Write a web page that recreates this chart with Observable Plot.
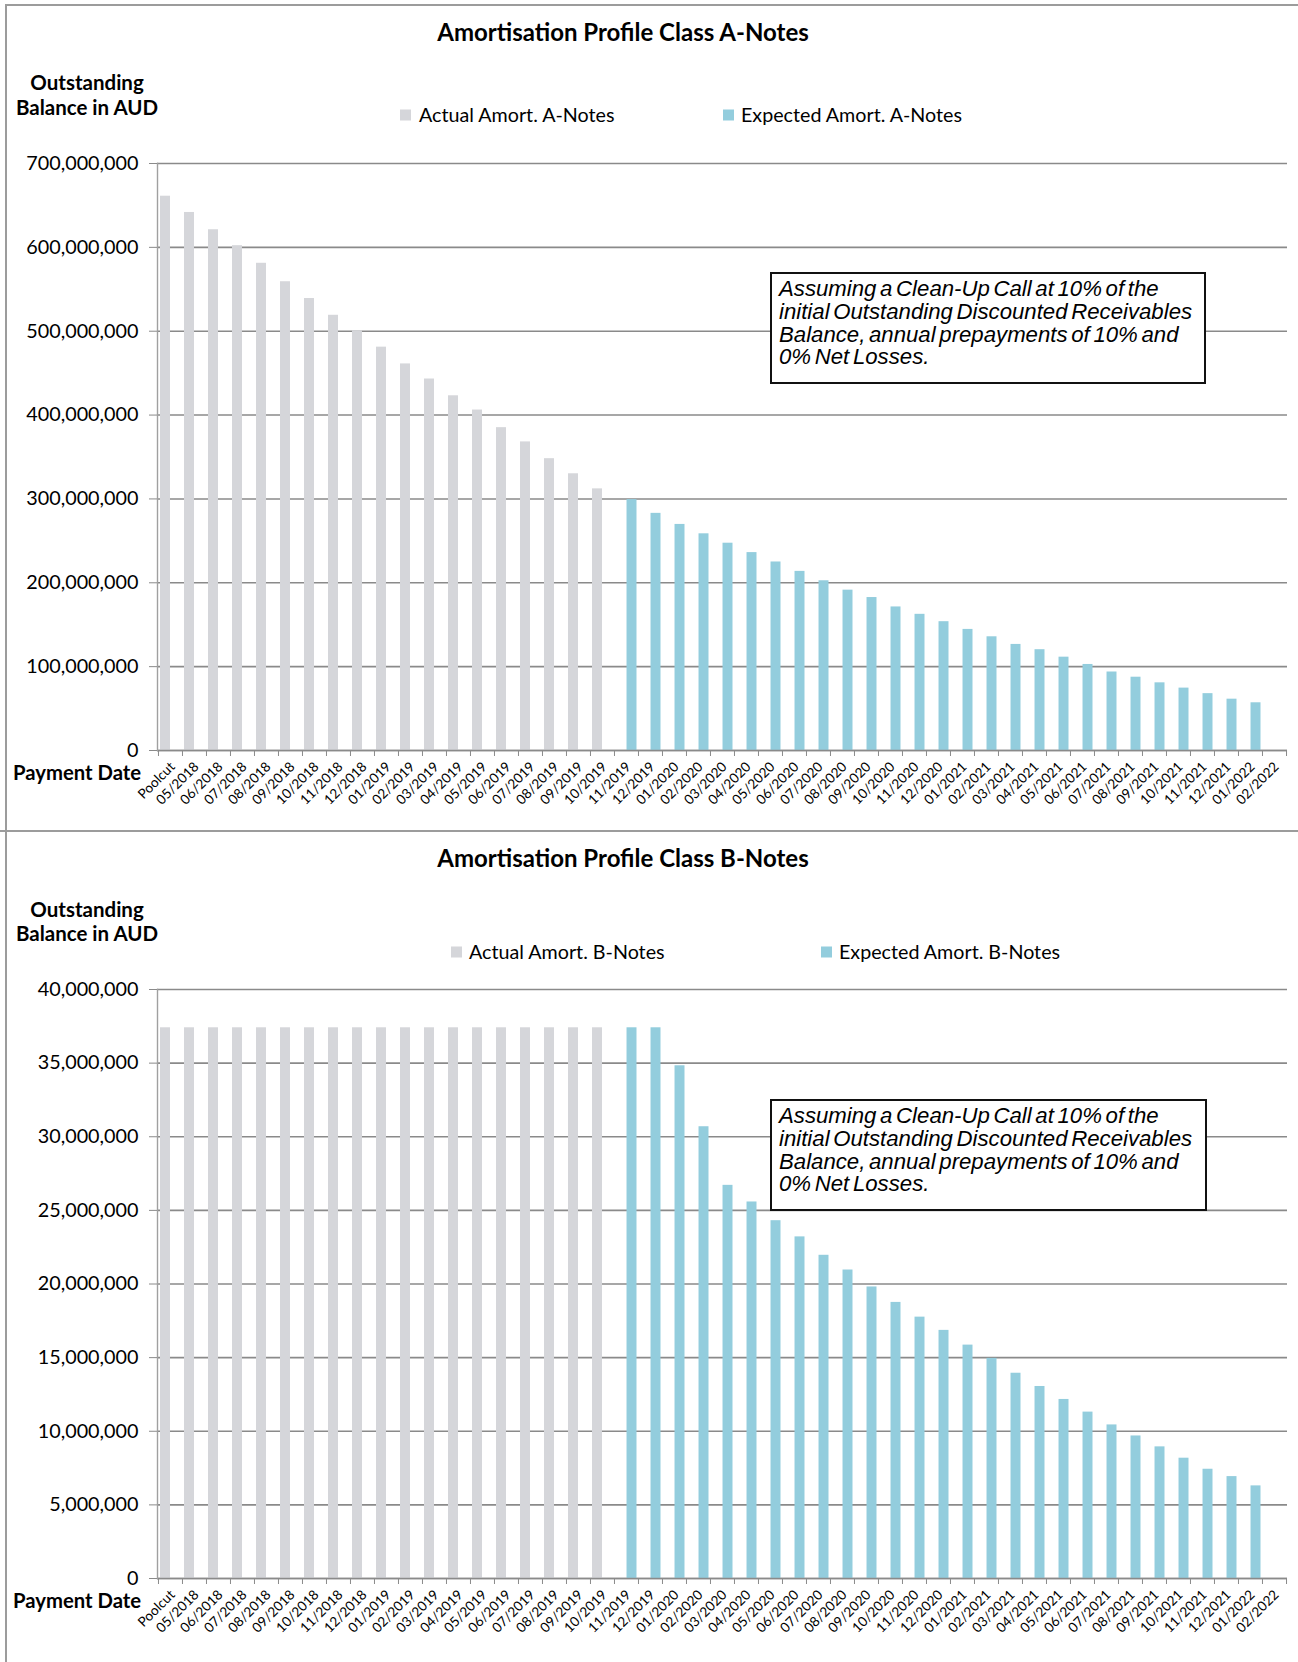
<!DOCTYPE html>
<html><head><meta charset="utf-8">
<script src="https://cdn.jsdelivr.net/npm/d3@7"></script>
<script src="https://cdn.jsdelivr.net/npm/@observablehq/plot@0.6"></script>
<style>
html,body{margin:0;padding:0;background:#fff;overflow:hidden;}
#root{position:relative;width:1298px;height:1662px;font-family:Lato,"Open Sans",sans-serif;color:#000;}
.panel{position:absolute;left:0;width:1298px;height:831px;}
.panel svg{position:absolute;left:0;top:0;}
.line{position:absolute;background:#9c9c9c;}
.t{position:absolute;white-space:nowrap;line-height:1;transform:translateY(-50%);}
.title{font-weight:700;font-size:24px;transform:translate(-50%,-50%);}
.ytitle{font-weight:700;font-size:20.5px;transform:translate(-50%,-50%);}
.pay{font-weight:700;font-size:20.3px;}
.leg{font-size:19.7px;}
.sq{position:absolute;width:11px;height:11px;transform:translateY(-50%);}
.box{position:absolute;border:2px solid #111;background:#fff;box-sizing:border-box;padding:4px 0 0 7px;
 font-family:"Liberation Sans",Arial,sans-serif;font-style:italic;font-size:22.2px;line-height:22.8px;letter-spacing:0;word-spacing:-2.5px;white-space:nowrap;}
</style></head>
<body><div id="root"></div>
<script>
// Categories (payment dates)
const categories = ["Poolcut","05/2018","06/2018","07/2018","08/2018","09/2018","10/2018","11/2018","12/2018",
 "01/2019","02/2019","03/2019","04/2019","05/2019","06/2019","07/2019","08/2019","09/2019","10/2019","11/2019","12/2019",
 "01/2020","02/2020","03/2020","04/2020","05/2020","06/2020","07/2020","08/2020","09/2020","10/2020","11/2020","12/2020",
 "01/2021","02/2021","03/2021","04/2021","05/2021","06/2021","07/2021","08/2021","09/2021","10/2021","11/2021","12/2021",
 "01/2022","02/2022"];

// Class A (AUD millions)
const actualA = [661,641.6,621,602,581,559,539,519,500.5,481,461,443,423,406,385,368,348,330,312];
const expectedA = [299.2,282.8,269.6,258.4,247.2,236,224.8,213.6,202.4,191.2,182.4,171.2,162.4,153.6,144.4,135.6,
 126.5,120.2,111.3,102.6,93.6,87.4,80.7,74.4,67.8,61.2,56.9];
const yTicksA = [0,100,200,300,400,500,600,700];

// Class B (AUD millions)
const actualB = [37.4,37.4,37.4,37.4,37.4,37.4,37.4,37.4,37.4,37.4,37.4,37.4,37.4,37.4,37.4,37.4,37.4,37.4,37.4];
const expectedB = [37.4,37.4,34.82,30.68,26.7,25.57,24.3,23.2,21.95,20.95,19.8,18.75,17.75,16.85,15.85,14.95,
 13.94,13.04,12.16,11.3,10.43,9.68,8.94,8.17,7.42,6.92,6.29];
const yTicksB = [0,5,10,15,20,25,30,35,40];

const annotation = ["Assuming a Clean-Up Call at 10% of the","initial Outstanding Discounted Receivables",
 "Balance, annual prepayments of 10% and","0% Net Losses."];

const W = 1298, H = 831, ML = 157, MR = 11;
const GREY = "#d5d6da", BLUE = "#93cddd", GRID = "#8a8a8a";

const panels = [
 {cls:"A", top:0, mt:163, mb:81, actual:actualA, expected:expectedA, ticks:yTicksA,
  title:"Amortisation Profile Class A-Notes", titleY:32, ytY:[82,107], legY:114.5,
  leg:[[400,419,"Actual Amort. A-Notes",GREY],[723,741,"Expected Amort. A-Notes",BLUE]], payY:772,
  box:{l:770,t:272,w:436,h:112}},
 {cls:"B", top:831, mt:158, mb:84, actual:actualB, expected:expectedB, ticks:yTicksB,
  title:"Amortisation Profile Class B-Notes", titleY:27, ytY:[78,102], legY:120.5,
  leg:[[451,469,"Actual Amort. B-Notes",GREY],[821,839,"Expected Amort. B-Notes",BLUE]], payY:769,
  box:{l:770,t:268,w:437,h:112}}
];

const root = document.getElementById("root");
const fmt = d3.format(",");

for (const p of panels) {
  const div = document.createElement("div");
  div.className = "panel";
  div.style.top = p.top + "px";
  root.appendChild(div);

  const act = p.actual.map((v,i) => ({cat: categories[i], v: v*1e6}));
  const exp = p.expected.map((v,i) => ({cat: categories[p.actual.length + i], v: v*1e6}));
  const bw = (W - ML - MR) / categories.length;
  const ticks = p.ticks.map(d => d*1e6);

  const chart = Plot.plot({
    width: W, height: H,
    marginTop: p.mt, marginBottom: p.mb, marginLeft: ML, marginRight: MR,
    style: {fontFamily: "Lato, sans-serif", background: "transparent", color: "#000", overflow: "visible"},
    x: {domain: categories, padding: 0, label: null},
    y: {domain: [ticks[0], ticks[ticks.length-1]], label: null},
    marks: [
      Plot.gridY(ticks, {stroke: GRID, strokeOpacity: 1, strokeWidth: 1.6}),
      Plot.barY(act, {x: "cat", y: "v", fill: GREY, insetLeft: 2, insetRight: bw/2}),
      Plot.barY(exp, {x: "cat", y: "v", fill: BLUE, insetLeft: bw/2 + 0.5, insetRight: 1.5}),
      Plot.ruleY([0], {stroke: GRID, strokeWidth: 1.6}),
      Plot.frame({anchor: "left", stroke: "#a0a0a0", strokeWidth: 1.4}),
      Plot.axisY(ticks, {tickFormat: fmt, tickSize: 8, tickPadding: 11, fontSize: 19.8, stroke: GRID, fill: "#000", label: null}),
      Plot.axisX({tickSize: 0, tickPadding: 14, tickRotate: -45, fontSize: 13.6, fill: "#000", label: null,
                  tickFormat: d => d, dx: 2}),
      Plot.axisX({tickSize: 6, tickFormat: () => "", dx: -bw/2, stroke: GRID, label: null}),
      Plot.axisX([categories[categories.length-1]], {tickSize: 6, tickFormat: () => "", dx: bw/2, stroke: GRID, label: null})
    ]
  });
  div.appendChild(chart);

  const add = (cls, text, x, y) => {
    const e = document.createElement("div");
    e.className = "t " + cls; e.textContent = text;
    e.style.left = x + "px"; e.style.top = y + "px";
    div.appendChild(e); return e;
  };
  add("title", p.title, 623, p.titleY);
  add("ytitle", "Outstanding", 87, p.ytY[0]);
  add("ytitle", "Balance in AUD", 87, p.ytY[1]);
  add("pay", "Payment Date", 13, p.payY);
  for (const [sx, tx, label, color] of p.leg) {
    const s = document.createElement("div");
    s.className = "sq"; s.style.left = sx + "px"; s.style.top = p.legY + "px"; s.style.background = color;
    div.appendChild(s);
    add("leg", label, tx, p.legY);
  }
  const box = document.createElement("div");
  box.className = "box";
  Object.assign(box.style, {left: p.box.l+"px", top: p.box.t+"px", width: p.box.w+"px", height: p.box.h+"px"});
  box.innerHTML = annotation.join("<br>");
  div.appendChild(box);

  // panel border lines
  const ln = (l,t,w,h) => { const e = document.createElement("div"); e.className="line";
    Object.assign(e.style,{left:l+"px",top:t+"px",width:w+"px",height:h+"px"}); div.appendChild(e); };
  if (p.cls === "A") { ln(5,4,W-5,2); ln(5,4,2,H-4); }
  else { ln(0,-1,W,2); ln(5,0,2,H); }
}
</script></body></html>
